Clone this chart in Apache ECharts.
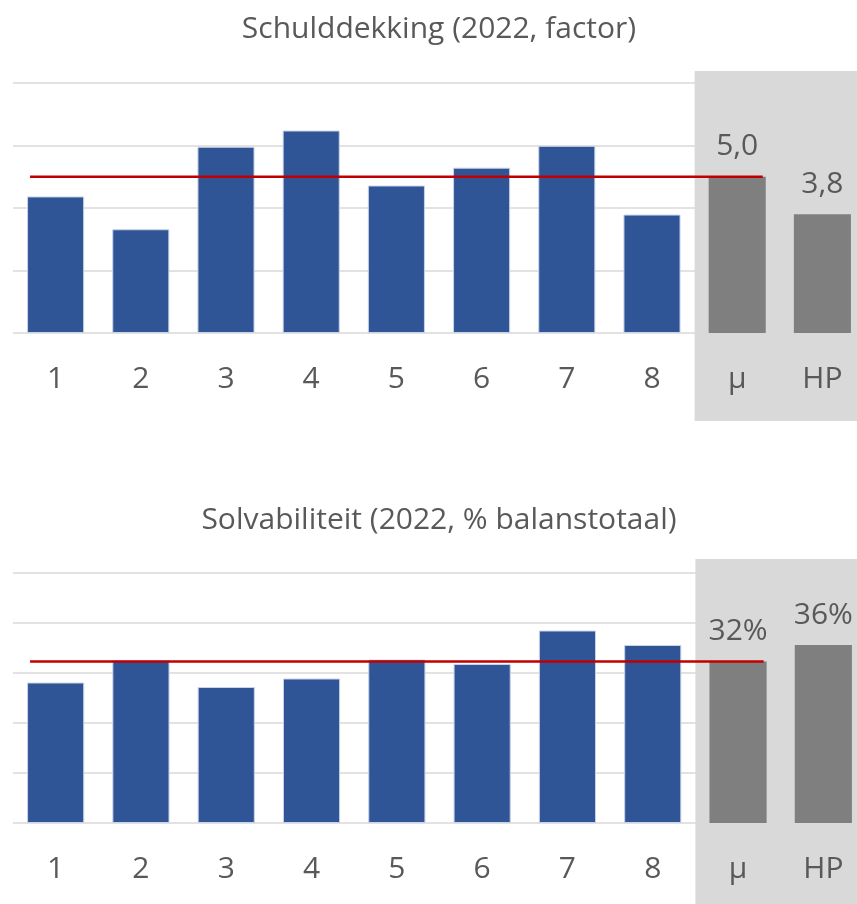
<!DOCTYPE html>
<html>
<head>
<meta charset="utf-8">
<script src="https://cdn.jsdelivr.net/npm/echarts@6/dist/echarts.min.js"></script>
<style>
    html, body { margin: 0; padding: 0; background: #ffffff; }
    #main { width: 857px; height: 904px; }
</style>
</head>
<body>
<div id="main"></div>
<script>
    // categorieen (8 bedrijven, gemiddelde, HP)
    const categories = ['1', '2', '3', '4', '5', '6', '7', '8', 'μ', 'HP'];

    // schulddekking (factor)
    const schulddekking = [4.37, 3.32, 5.96, 6.48, 4.72, 5.29, 5.99, 3.79];
    const schulddekkingRef = [5.0, 3.8]; // μ, HP

    // solvabiliteit (% balanstotaal)
    const solvabiliteit = [28.1, 32.6, 27.2, 28.9, 32.7, 31.8, 38.5, 35.6];
    const solvabiliteitRef = [32.3, 35.6]; // μ, HP

    // y-as ticks
    const ticks1 = [0, 2, 4, 6, 8];
    const ticks2 = [0, 10, 20, 30, 40, 50];

    // rode lijn loopt van links van balk 1 tot rechts van μ (in categorie-eenheden)
    const lijnBereik = [0.2, 8.8];

    const blauw = '#2F5597';
    const grijs = '#7F7F7F';
    const tekst = '#595959';
    const font = 'Open Sans';

    function maakData(waarden, ref, fmt) {
        let data = waarden.map(v => ({ value: v, itemStyle: { color: blauw, borderColor: '#c9d3e6', borderWidth: 1 } }));
        ref.forEach(v => {
            data.push({
                value: v,
                itemStyle: { color: grijs },
                label: { show: true, position: 'top', distance: 15, formatter: fmt(v), color: tekst, fontSize: 30, fontFamily: font }
            });
        });
        return data;
    }

    const fmt1 = v => v.toFixed(1).replace('.', ',');
    const fmt2 = v => Math.round(v) + '%';

    function xCat(grid) {
        return {
            type: 'category', gridIndex: grid, data: categories, z: 3,
            axisLine: { show: false }, axisTick: { show: false },
            axisLabel: { color: tekst, fontSize: 30, fontFamily: font, margin: 31 }
        };
    }
    function xLijn(grid) {
        return { type: 'value', gridIndex: grid, min: 0, max: categories.length, show: false };
    }
    function yAs(grid, ticks) {
        return {
            type: 'value', gridIndex: grid, min: ticks[0], max: ticks[ticks.length - 1],
            interval: ticks[1] - ticks[0],
            axisLabel: { show: false }, axisLine: { show: false }, axisTick: { show: false },
            splitLine: { lineStyle: { color: '#D9D9D9', width: 1.5 } }
        };
    }

    const chart = echarts.init(document.getElementById('main'));
    chart.setOption({
        animation: false,
        title: [
            { text: 'Schulddekking (2022, factor)', left: 434, top: 9, textAlign: 'center',
              textStyle: { color: tekst, fontSize: 30, fontWeight: 'normal', fontFamily: font } },
            { text: 'Solvabiliteit (2022, % balanstotaal)', left: 434, top: 500, textAlign: 'center',
              textStyle: { color: tekst, fontSize: 30, fontWeight: 'normal', fontFamily: font } }
        ],
        grid: [
            { left: 13, width: 852, top: 83, height: 250, outerBoundsMode: 'none' },
            { left: 13, width: 853, top: 573, height: 250, outerBoundsMode: 'none' }
        ],
        xAxis: [xCat(0), xCat(1), xLijn(0), xLijn(1)],
        yAxis: [yAs(0, ticks1), yAs(1, ticks2)],
        series: [
            {
                name: 'Schulddekking', type: 'bar', xAxisIndex: 0, yAxisIndex: 0,
                barCategoryGap: '33%',
                data: maakData(schulddekking, schulddekkingRef, fmt1)
            },
            {
                name: 'Solvabiliteit', type: 'bar', xAxisIndex: 1, yAxisIndex: 1,
                barCategoryGap: '33%',
                data: maakData(solvabiliteit, solvabiliteitRef, fmt2)
            },
            {
                name: 'Gemiddelde 1', type: 'line', xAxisIndex: 2, yAxisIndex: 0, z: 4,
                symbol: 'none', lineStyle: { color: '#C00000', width: 2.5 },
                data: lijnBereik.map(x => [x, schulddekkingRef[0]])
            },
            {
                name: 'Gemiddelde 2', type: 'line', xAxisIndex: 3, yAxisIndex: 1, z: 4,
                symbol: 'none', lineStyle: { color: '#C00000', width: 2.5 },
                data: lijnBereik.map(x => [x, solvabiliteitRef[0]])
            }
        ]
    });

    // grijze achtergrond achter μ en HP, berekend uit de as-posities
    function achtergrond(xi, yi, ticks, boven, onder) {
        const c9 = chart.convertToPixel({ xAxisIndex: xi }, 'μ');
        const c10 = chart.convertToPixel({ xAxisIndex: xi }, 'HP');
        const band = c10 - c9;
        const yTop = chart.convertToPixel({ yAxisIndex: yi }, ticks[ticks.length - 1]);
        const yBot = chart.convertToPixel({ yAxisIndex: yi }, ticks[0]);
        const x0 = c9 - band / 2;
        return {
            type: 'rect', z: 1,
            shape: { x: x0, y: yTop - boven, width: 857 - x0, height: yBot - yTop + boven + onder },
            style: { fill: '#D9D9D9' }
        };
    }
    chart.setOption({
        graphic: [
            achtergrond(0, 0, ticks1, 12, 88),
            achtergrond(1, 1, ticks2, 14, 90)
        ]
    });
</script>
</body>
</html>
